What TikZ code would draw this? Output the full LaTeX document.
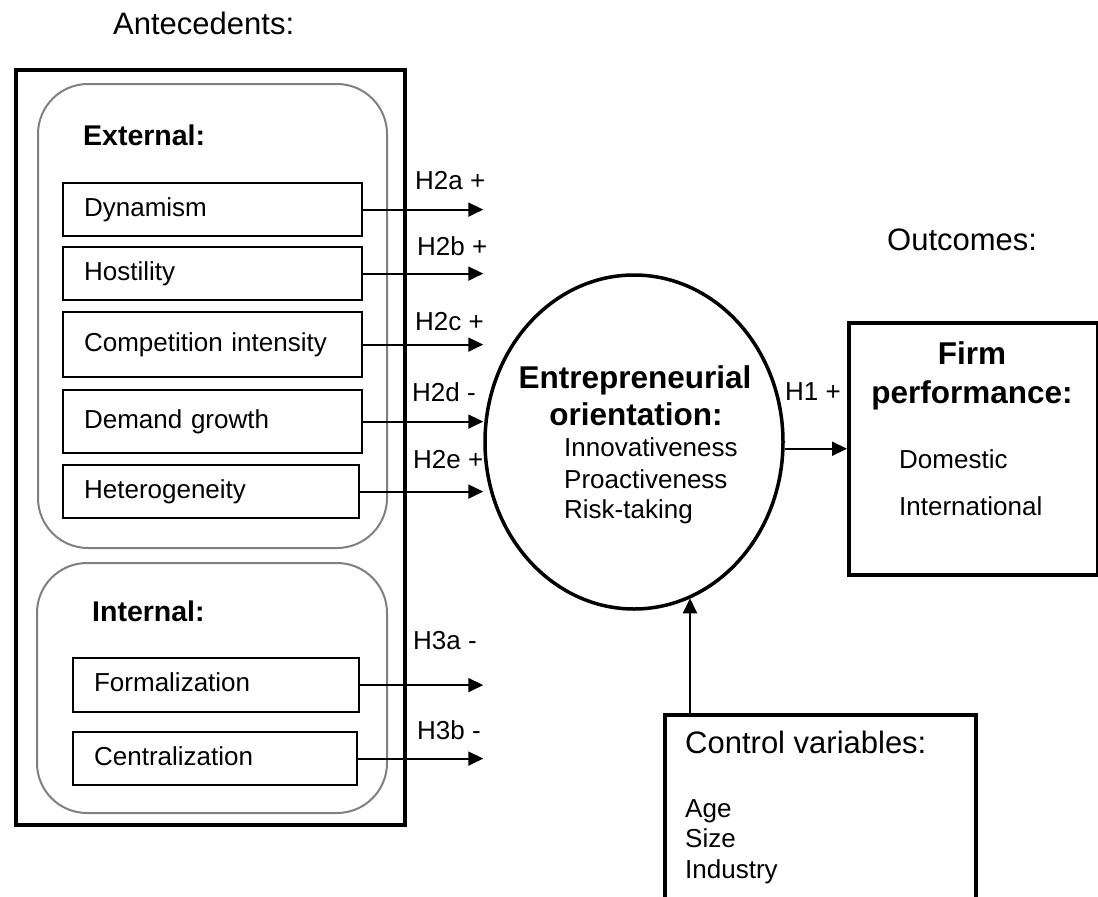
\documentclass[tikz,border=0pt]{standalone}
\usepackage{fontspec}
\setmainfont{Liberation Sans}
\usetikzlibrary{arrows.meta,shapes.geometric}

\tikzset{
    txt/.style={anchor=base west,inner sep=0pt,font=\fontsize{26}{31}\selectfont},
    head/.style={anchor=base west,inner sep=0pt,font=\fontsize{31}{36}\selectfont},
    bhead/.style={anchor=base,inner sep=0pt,font=\fontsize{31.5}{36}\selectfont\bfseries},
    item/.style={draw,line width=2.2pt,anchor=north west,inner xsep=21pt,inner ysep=0pt,
        text height=19pt,text depth=6pt,align=left,font=\fontsize{26}{31}\selectfont},
    group/.style={draw=gray,line width=2pt,rounded corners=50pt,anchor=north west},
    frame/.style={draw,line width=3.5pt,anchor=north west},
    link/.style={line width=2pt,-{Triangle[length=15pt,width=14pt]}}
}

\begin{document}
\begin{tikzpicture}[x=1pt,y=-1pt]
            \useasboundingbox (0,0) rectangle (1098,897);

            \node[head] (antlab) at (113,34) {Antecedents:};
            \node[head] (outlab) at (887,250) {Outcomes:};

            \node[frame,minimum width=389pt,minimum height=755pt] (ante) at (14,68) {};
            \node[group,minimum width=349pt,minimum height=464pt] (ext) at (37,83) {};
            \node[group,minimum width=350pt,minimum height=250pt] (int) at (36,562) {};

            \node[txt,font=\fontsize{28.5}{34}\selectfont\bfseries] (extlab) at (83,145) {External:};
            \node[item,minimum width=299pt,text width=257pt,minimum height=53pt] (dyn) at (62,182) {Dynamism};
            \node[item,minimum width=299pt,text width=257pt,minimum height=53pt] (hos) at (62,246) {Hostility};
            \node[item,minimum width=299pt,text width=257pt,minimum height=65pt] (com) at (62,311) {Competition intensity};
            \node[item,minimum width=299pt,text width=257pt,minimum height=63pt] (dem) at (62,389) {Demand growth};
            \node[item,minimum width=296pt,text width=254pt,minimum height=53pt] (het) at (62,464) {Heterogeneity};

            \node[txt,font=\fontsize{28.5}{34}\selectfont\bfseries] (intlab) at (92,621.7) {Internal:};
            \node[item,minimum width=286pt,text width=244pt,minimum height=54pt] (frm) at (72,657) {Formalization};
            \node[item,minimum width=284pt,text width=242pt,minimum height=53pt] (cen) at (72,731) {Centralization};

            \node[frame,ellipse,minimum width=298pt,minimum height=334pt,anchor=center] (eo) at (634,442) {};
            \node[bhead] (eo1) at (635,388) {Entrepreneurial};
            \node[bhead] (eo2) at (636,425) {orientation:};
            \node[txt] (eo3) at (564,456.7) {Innovativeness};
            \node[txt] (eo4) at (564,488) {Proactiveness};
            \node[txt] (eo5) at (564,518) {Risk-taking};

            \node[frame,minimum width=249pt,minimum height=252pt] (fp) at (847,321) {};
            \node[bhead] (fp1) at (972,364) {Firm};
            \node[bhead] (fp2) at (972,403) {performance:};
            \node[txt] (fp3) at (899,468) {Domestic};
            \node[txt] (fp4) at (899,515) {International};

            \node[frame,minimum width=311pt,minimum height=200pt] (cv) at (663,713) {};
            \node[head] (cv1) at (685,753) {Control variables:};
            \node[txt] (cv2) at (685,817) {Age};
            \node[txt] (cv3) at (685,847) {Size};
            \node[txt] (cv4) at (685,878) {Industry};

            \node[txt] (h2a) at (415,189) {H2a +};
            \node[txt] (h2b) at (417,255) {H2b +};
            \node[txt] (h2c) at (415,330) {H2c +};
            \node[txt] (h2d) at (412,401) {H2d -};
            \node[txt] (h2e) at (413,468) {H2e +};
            \node[txt] (h3a) at (413,649) {H3a -};
            \node[txt] (h3b) at (417,739) {H3b -};
            \node[txt] (h1) at (785,400) {H1 +};

            \draw[link] (dyn.east) -- (dyn.east -| eo.west);
            \draw[link] (hos.east) -- (hos.east -| eo.west);
            \draw[link] (com.east) -- (com.east -| eo.west);
            \draw[link] (dem.east) -- (dem.east -| eo.west);
            \draw[link] (het.east) -- (het.east -| eo.west);
            \draw[link] (frm.east) -- (frm.east -| eo.west);
            \draw[link] (cen.east) -- (cen.east -| eo.west);
            \draw[link] (fp.west -| eo.east) -- (fp.west);
            \coordinate (cvin) at ([xshift=27pt]cv.north west);
            \draw[link] (cvin) -- (cvin |- eo.-70);
        \end{tikzpicture}
\end{document}
